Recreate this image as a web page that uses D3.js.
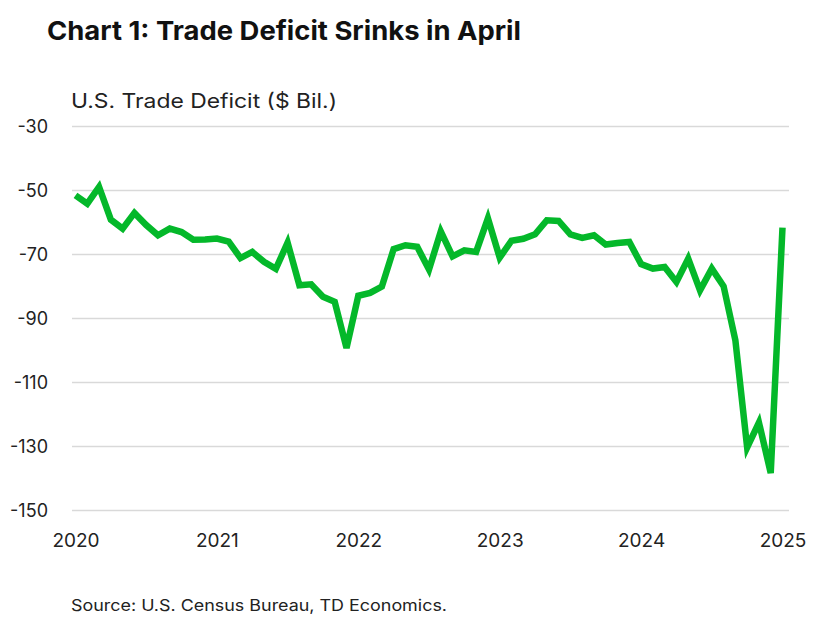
<!DOCTYPE html>
<html>
<head>
<meta charset="utf-8">
<script src="https://cdn.jsdelivr.net/npm/d3@7"></script>
<style>
  html, body { margin: 0; padding: 0; background: #fff; }
  svg { display: block; }
  text { font-family: "Inter", "Roboto", sans-serif; }
</style>
</head>
<body>
<svg id="chart" width="827" height="617"></svg>
<script>
// ---- data ----
const titleText = "Chart 1: Trade Deficit Srinks in April";
const yAxisTitle = "U.S. Trade Deficit ($ Bil.)";
const sourceText = "Source: U.S. Census Bureau, TD Economics.";
const startMonth = "2020-04"; // first observation
// monthly U.S. trade balance, $ billions, Apr 2020 - Apr 2025
const deficit = [
  -51.5, -54.1, -48.9, -59.1, -61.9, -57.0, -60.8, -64.0, -61.9, -63.0,
  -65.4, -65.3, -65.0, -66.0, -71.1, -69.2, -72.3, -74.5, -66.3, -79.6,
  -79.3, -83.2, -84.8, -99.2, -82.9, -82.0, -80.0, -68.3, -67.1, -67.6,
  -74.7, -62.8, -70.6, -68.7, -69.2, -58.7, -71.0, -65.7, -65.1, -63.7,
  -59.3, -59.5, -63.7, -64.8, -64.0, -66.9, -66.4, -66.1, -73.0, -74.4,
  -73.9, -78.6, -71.3, -81.2, -74.4, -79.9, -96.8, -130.3, -122.5, -138.3,
  -61.6
];
const yTicks = [-30, -50, -70, -90, -110, -130, -150];
const xTickLabels = ["2020", "2021", "2022", "2023", "2024", "2025"];
const xTickIndex = [0, 12, 24, 36, 48, 60];

// ---- layout ----
const svg = d3.select("#chart");
const x = d3.scaleLinear().domain([0, deficit.length - 1]).range([75.5, 782.5]);
const y = d3.scaleLinear().domain([-30, -150]).range([126.5, 510.5]);
const gridX0 = 72, gridX1 = 789;

// title
svg.append("text")
  .attr("x", 47).attr("y", 40)
  .attr("font-size", 26).attr("font-weight", 700)
  .attr("fill", "#111")
  .attr("textLength", 474).attr("lengthAdjust", "spacingAndGlyphs")
  .text(titleText);

// y-axis title
svg.append("text")
  .attr("x", 71).attr("y", 108)
  .attr("font-size", 20).attr("fill", "#222")
  .attr("textLength", 266).attr("lengthAdjust", "spacingAndGlyphs")
  .text(yAxisTitle);

// gridlines
svg.append("g").selectAll("line").data(yTicks).join("line")
  .attr("x1", gridX0).attr("x2", gridX1)
  .attr("y1", d => y(d)).attr("y2", d => y(d))
  .attr("stroke", "#d9d9d9").attr("stroke-width", 1.5);

// y axis labels
const yAxis = d3.axisLeft(y).tickValues(yTicks).tickSize(0).tickPadding(0)
  .tickFormat(d => String(d));
const gy = svg.append("g").attr("transform", "translate(48,0)").call(yAxis);
gy.select(".domain").remove();
gy.selectAll("text").attr("font-size", 18).attr("fill", "#222")
  .attr("font-family", "Inter, Roboto, sans-serif");

// x axis labels
const xAxis = d3.axisBottom(x).tickValues(xTickIndex).tickSize(0).tickPadding(0)
  .tickFormat((d, i) => xTickLabels[i]);
const gx = svg.append("g").attr("transform", "translate(0,533)").call(xAxis);
gx.select(".domain").remove();
gx.selectAll("text").attr("font-size", 19).attr("fill", "#222")
  .attr("font-family", "Inter, Roboto, sans-serif");

// line
const line = d3.line().x((d, i) => x(i)).y(d => y(d));
svg.append("path")
  .datum(deficit)
  .attr("d", line)
  .attr("fill", "none")
  .attr("stroke", "#04b82a")
  .attr("stroke-width", 6.5)
  .attr("stroke-linejoin", "miter")
  .attr("stroke-miterlimit", 4);

// source
svg.append("text")
  .attr("x", 71).attr("y", 611)
  .attr("font-size", 16).attr("fill", "#222")
  .attr("textLength", 376).attr("lengthAdjust", "spacingAndGlyphs")
  .text(sourceText);
</script>
</body>
</html>
